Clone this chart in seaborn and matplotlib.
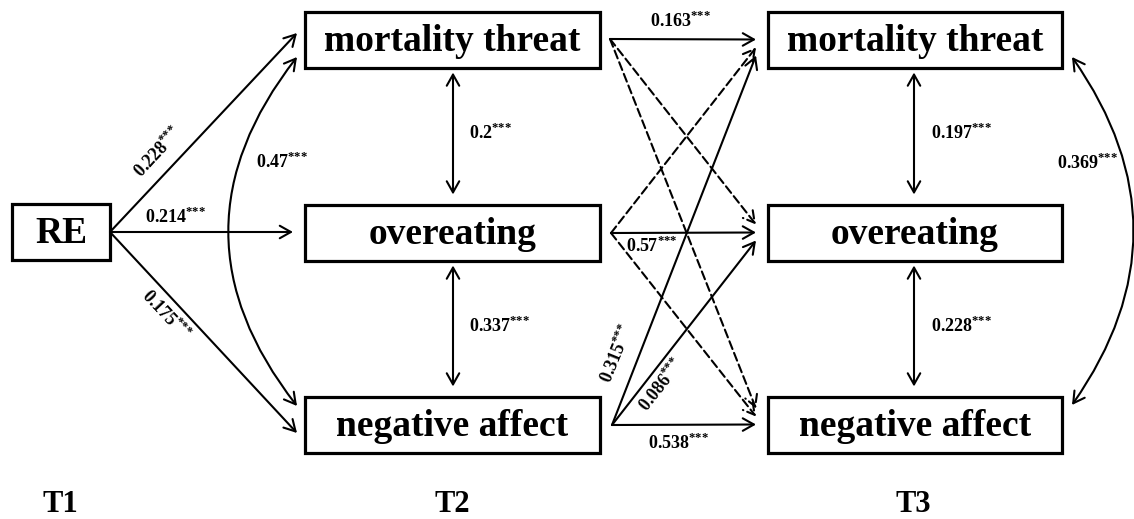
import matplotlib
matplotlib.use("Agg")
import matplotlib.pyplot as plt
import seaborn as sns
from matplotlib.patches import Rectangle, FancyArrowPatch

# data
waves = ["T1", "T2", "T3"]
predictor = "RE"
outcomes = ["mortality threat", "overeating", "negative affect"]
re_paths = [0.228, 0.214, 0.175]            # RE -> T2 outcomes
t2_cov = [0.2, 0.337]                       # neighbour covariances at T2
t2_cov_outer = 0.47                         # mortality <-> negative at T2
t3_cov = [0.197, 0.228]                     # neighbour covariances at T3
t3_cov_outer = 0.369                        # mortality <-> negative at T3
# cross-lagged paths T2 (row) -> T3 (col); None = not significant (dashed)
cross_lag = [
    [0.163, None, None],
    [None, 0.57, None],
    [0.315, 0.086, 0.538],
]

# layout (pixel space)
W, H = 1134, 519
row_y = [39.5, 232.5, 424.5]
box_h = 56
re_box = (12, 110)
t2_box = (305, 600)
t3_box = (768, 1062)
wave_x = [60, 452, 913]
wave_y = 505
re_ends = [(297, 33), (293, 232), (297, 433)]
re_lbl = [(158, 152, 47), (176, 217, 0), (166, 315, -47)]
cross_lbl = {(0, 0): (681, 21, 0), (1, 1): (652, 246, 0), (2, 2): (679, 443, 0),
             (2, 0): (617, 354, 68), (2, 1): (661, 385, 52)}
cross_start = [(610, 39), (611, 233), (612, 425)]

sns.set_theme(style="white")
plt.rcParams["font.family"] = ["Liberation Serif", "DejaVu Serif"]
plt.rcParams["font.weight"] = "bold"
plt.rcParams["text.color"] = "black"
plt.rcParams["mathtext.fontset"] = "custom"
plt.rcParams["mathtext.rm"] = "Liberation Serif"
plt.rcParams["mathtext.bf"] = "Liberation Serif:bold"

fig = plt.figure(figsize=(W / 100, H / 100), dpi=100)
ax = fig.add_axes([0, 0, 1, 1])
ax.set_xlim(0, W)
ax.set_ylim(H, 0)
ax.axis("off")

def box(x0, x1, yc, label):
    ax.add_patch(Rectangle((x0, yc - box_h / 2), x1 - x0, box_h, fill=False,
                           lw=2.3, ec="black", zorder=3))
    ax.text((x0 + x1) / 2, yc + 2, label, ha="center", va="center",
            fontsize=27, fontweight="bold", color="black")

def arrow(p0, p1, style="->", ls="-", rad=0.0):
    a = FancyArrowPatch(p0, p1, arrowstyle=style + ",head_length=0.8,head_width=0.45",
                        mutation_scale=10, lw=1.5, color="black", linestyle=ls,
                        shrinkA=0, shrinkB=0,
                        connectionstyle=f"arc3,rad={rad}")
    ax.add_patch(a)

def coef(v, x, y, rot=0, ha="center"):
    s = f"{v:g}"
    ax.text(x, y, r"$\mathbf{" + s + r"}^{{*}{*}{*}}$", ha=ha, va="center",
            rotation=rot, rotation_mode="anchor", fontsize=13, color="black")

# boxes
box(*re_box, 231.5, predictor)
for i, name in enumerate(outcomes):
    box(*t2_box, row_y[i], name)
    box(*t3_box, row_y[i], name)

# RE -> T2
for i, v in enumerate(re_paths):
    arrow((110, 232), re_ends[i])
    coef(v, *re_lbl[i])

# T2 covariances
arrow((297, 57), (297, 406), style="<->", rad=0.39)
coef(t2_cov_outer, 282, 162)
for i, v in enumerate(t2_cov):
    arrow((453, row_y[i] + 33), (453, row_y[i + 1] - 38), style="<->")
    coef(v, 469, (row_y[i] + row_y[i + 1]) / 2 - 3, ha="left")

# T3 covariances
arrow((1072, 405), (1072, 57), style="<->", rad=0.35)
coef(t3_cov_outer, 1057, 163, ha="left")
for i, v in enumerate(t3_cov):
    arrow((914, row_y[i] + 33), (914, row_y[i + 1] - 38), style="<->")
    coef(v, 931, (row_y[i] + row_y[i + 1]) / 2 - 3, ha="left")

# cross-lagged paths
for s in range(3):
    for t in range(3):
        v = cross_lag[s][t]
        end = (756, row_y[t] + 8 * (s - t))
        arrow(cross_start[s], end, ls="-" if v is not None else (0, (4, 2)))
        if v is not None:
            coef(v, *cross_lbl[(s, t)])

for x, w in zip(wave_x, waves):
    ax.text(x, wave_y, w, ha="center", va="center", fontsize=22,
            fontweight="bold", color="black")

fig.savefig("out.png", dpi=100)
